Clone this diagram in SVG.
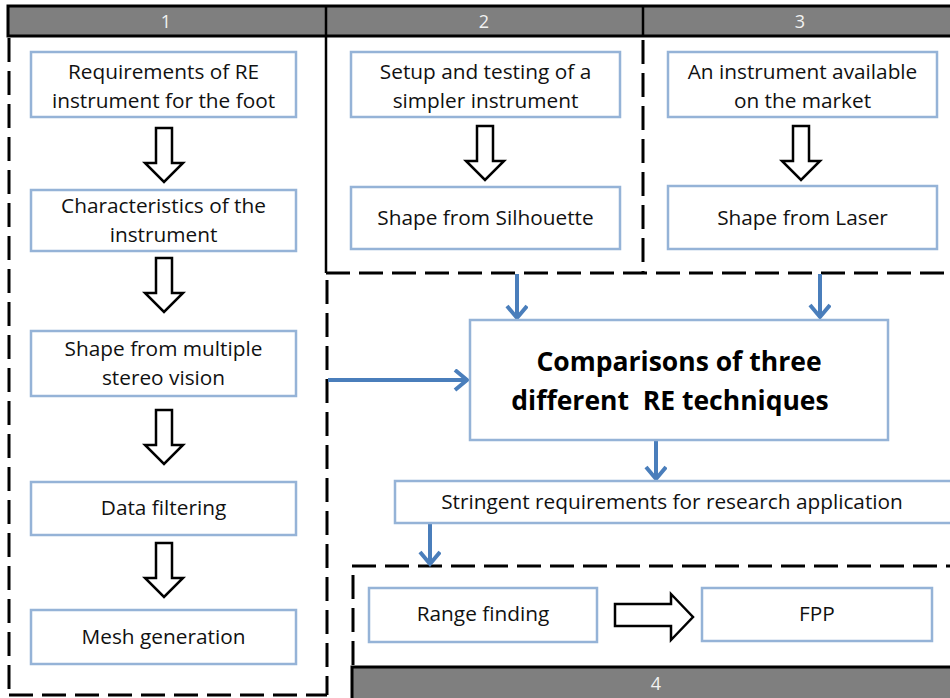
<svg xmlns="http://www.w3.org/2000/svg" xmlns:xlink="http://www.w3.org/1999/xlink" width="950" height="698" viewBox="0 0 950 698">
<style>
.box{fill:#fff;stroke:#95B3D7;stroke-width:2.5}
.lbl{font-family:"Open Sans","Liberation Sans",sans-serif;font-size:20.8px;fill:#111;text-anchor:middle}
.big{font-family:"Open Sans","Liberation Sans",sans-serif;font-size:26.5px;font-weight:bold;fill:#000;text-anchor:middle}
.num{font-family:"Open Sans","Liberation Sans",sans-serif;font-size:18px;fill:#F2F2F2;text-anchor:middle}
.bar{fill:#7F7F7F;stroke:#000;stroke-width:3}
.solid{stroke:#000;stroke-width:2.5;fill:none}
.dash{stroke:#000;stroke-width:3;fill:none;stroke-dasharray:24 9}
.hollow{fill:#fff;stroke:#000;stroke-width:2.5;stroke-linejoin:miter}
.blue{stroke:#4A7EBB;stroke-width:4;fill:none;marker-end:url(#chev)}
</style>
<defs>
<marker id="chev" markerUnits="userSpaceOnUse" markerWidth="24" markerHeight="26" refX="14" refY="11" orient="auto">
<path d="M2,1 L14,11 L2,21" fill="none" stroke="#4A7EBB" stroke-width="4"/>
</marker>
<path id="darrow" d="M-8,0 H8 V35 H19 L0,54 L-19,35 H-8 Z"/>
</defs>
<rect width="950" height="698" fill="#fff"/>

<g id="frames">
<rect class="bar" x="8" y="6" width="960" height="30"/>
<line class="solid" x1="326" y1="6" x2="326" y2="273"/>
<line class="solid" x1="643" y1="6" x2="643" y2="37"/>
<text class="num" x="166" y="27.5">1</text>
<text class="num" x="484" y="27.5">2</text>
<text class="num" x="800" y="27.5">3</text>
<line class="dash" x1="9" y1="38" x2="9" y2="695"/>
<line class="dash" x1="9" y1="695" x2="327" y2="695"/>
<line class="dash" x1="327" y1="280" x2="327" y2="695"/>
<path class="dash" d="M643,40 V273"/>
<line class="dash" x1="326" y1="273" x2="952" y2="273"/>
<line class="dash" x1="352" y1="566" x2="952" y2="566"/>
<line class="dash" x1="353" y1="575" x2="353" y2="667"/>
<rect class="bar" x="352" y="667" width="610" height="40"/>
<text class="num" x="656" y="689.5">4</text>
</g>

<g id="connectors">
<use xlink:href="#darrow" class="hollow" x="164" y="128"/>
<use xlink:href="#darrow" class="hollow" x="164" y="258"/>
<use xlink:href="#darrow" class="hollow" x="164" y="410"/>
<use xlink:href="#darrow" class="hollow" x="164" y="543"/>
<use xlink:href="#darrow" class="hollow" x="485" y="126"/>
<use xlink:href="#darrow" class="hollow" x="801" y="126"/>
<path class="hollow" d="M615,604 H671 V594 L693,617 L671,640 V626 H615 Z"/>
<line class="blue" x1="517" y1="274" x2="517" y2="318"/>
<line class="blue" x1="820" y1="274" x2="820" y2="317"/>
<line class="blue" x1="328" y1="380" x2="467" y2="380"/>
<line class="blue" x1="656" y1="441" x2="656" y2="479"/>
<line class="blue" x1="430" y1="524" x2="430" y2="564"/>
</g>

<g id="n1">
<rect class="box" x="31" y="52" width="265" height="65"/>
<text class="lbl" x="163.5" y="79">Requirements of RE</text>
<text class="lbl" x="163.5" y="108">instrument for the foot</text>
</g>
<g id="n2">
<rect class="box" x="31" y="190" width="265" height="61"/>
<text class="lbl" x="163.5" y="213">Characteristics of the</text>
<text class="lbl" x="163.5" y="242">instrument</text>
</g>
<g id="n3">
<rect class="box" x="31" y="331" width="265" height="65"/>
<text class="lbl" x="163.5" y="356">Shape from multiple</text>
<text class="lbl" x="163.5" y="385">stereo vision</text>
</g>
<g id="n4">
<rect class="box" x="31" y="482" width="265" height="53"/>
<text class="lbl" x="163.5" y="515">Data filtering</text>
</g>
<g id="n5">
<rect class="box" x="31" y="610" width="265" height="54"/>
<text class="lbl" x="163.5" y="644">Mesh generation</text>
</g>
<g id="n6">
<rect class="box" x="351" y="52" width="269" height="65"/>
<text class="lbl" x="485.5" y="79">Setup and testing of a</text>
<text class="lbl" x="485.5" y="108">simpler instrument</text>
</g>
<g id="n7">
<rect class="box" x="351" y="187" width="269" height="62"/>
<text class="lbl" x="485.5" y="225">Shape from Silhouette</text>
</g>
<g id="n8">
<rect class="box" x="668" y="52" width="269" height="65"/>
<text class="lbl" x="802.5" y="79">An instrument available</text>
<text class="lbl" x="802.5" y="108">on the market</text>
</g>
<g id="n9">
<rect class="box" x="668" y="186" width="269" height="63"/>
<text class="lbl" x="802.5" y="225">Shape from Laser</text>
</g>
<g id="n10">
<rect class="box" x="470" y="320" width="418" height="120"/>
<text class="big" x="679" y="371">Comparisons of three</text>
<text class="big" x="670" y="410" xml:space="preserve">different  RE techniques</text>
</g>
<g id="n11">
<rect class="box" x="395" y="481" width="570" height="42"/>
<text class="lbl" x="672" y="509">Stringent requirements for research application</text>
</g>
<g id="n12">
<rect class="box" x="369" y="588" width="228" height="54"/>
<text class="lbl" x="483" y="621">Range finding</text>
</g>
<g id="n13">
<rect class="box" x="702" y="588" width="230" height="53"/>
<text class="lbl" x="817" y="621">FPP</text>
</g>
</svg>
